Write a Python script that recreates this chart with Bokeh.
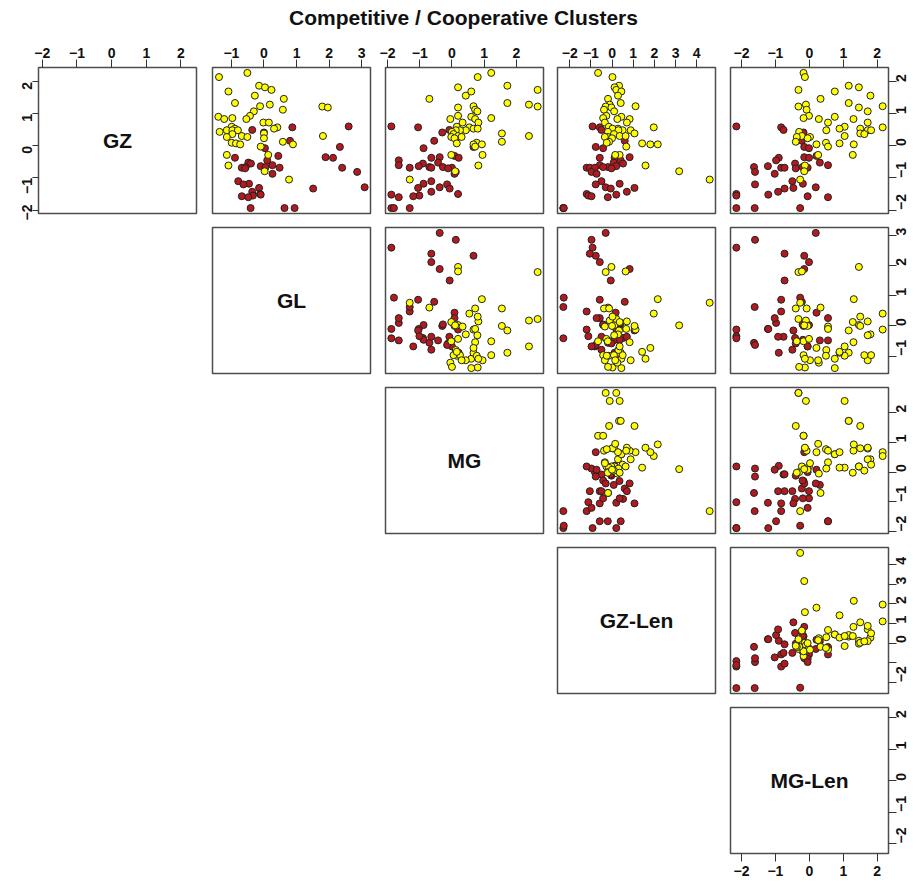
import math
from bokeh.plotting import figure
from bokeh.layouts import gridplot, column
from bokeh.models import ColumnDataSource, Range1d, FixedTicker
from bokeh.core.properties import value
from bokeh.embed import file_html
from bokeh.resources import INLINE

TITLE = "Competitive / Cooperative Clusters"
VAR_NAMES = ["GZ", "GL", "MG", "GZ-Len", "MG-Len"]
VAR_TICKS = [[-2, -1, 0, 1, 2], [-1, 0, 1, 2, 3], [-2, -1, 0, 1, 2],
             [-2, -1, 0, 1, 2, 3, 4], [-2, -1, 0, 1, 2]]

# ---- competitive cluster (red) ----
red_GZ = [0.61, 0.58, 0.50, 0.42, 0.16, -0.03, -0.07, -0.31, -0.35, -0.37,
          -0.37, -0.45, -0.52, -0.55, -0.60, -0.63, -0.66, -0.66, -0.68, -0.68,
          -0.68, -0.70, -0.81, -0.87, -1.10, -1.18, -1.20, -1.29, -1.31, -1.33,
          -1.43, -1.50, -1.52, -1.55, -1.57, -1.60, -1.94, -1.94, -1.94]
red_GL = [2.60, 0.87, -0.36, 0.00, 0.80, 2.33, 0.03, 0.44, 1.89, 2.12,
          -0.89, 0.10, -0.48, -0.40, 0.26, -0.10, -0.56, 0.05, 0.48, 2.40,
          -0.68, -0.58, 2.86, 0.26, -0.79, -0.46, -0.63, 3.09, -0.15, 1.51,
          -0.36, -0.12, -0.10, -0.34, -0.68, -0.48, -0.41, 0.63, 0.94]
red_MG = [-1.88, -1.05, -0.08, -0.30, -0.55, 0.67, -0.88, 0.08, -0.38, -0.64,
          0.21, -1.65, -0.43, -0.90, -1.65, -1.03, -0.70, -0.28, -1.31, -0.64,
          0.00, -0.12, 0.12, 0.08, -0.64, -0.88, -0.15, -0.38, -1.05, -0.07,
          -0.64, 0.19, -1.88, -1.01, -1.20, -1.65, -1.88, -1.31, -1.80]
red_GZLEN = [-0.92, -0.58, -0.50, 0.35, 0.60, -0.77, -0.42, 0.17, 0.83, -0.58,
             0.12, 0.41, 0.08, 0.52, -0.58, 0.20, -0.19, -0.42, -1.20, -1.05,
             -0.81, -0.03, -0.97, -0.73, -0.50, 0.36, -0.77, -0.30, 1.06, -0.06,
             0.70, -1.20, 0.20, -1.12, -0.97, -0.20, -2.30, -2.30, -2.28]
red_MGLEN = [-2.15, -0.83, -0.76, -0.17, -0.22, -0.15, -0.01, 0.21, -0.15, -0.01,
             -0.90, -0.98, 0.31, -0.42, 0.55, -1.22, -1.63, -0.20, -0.83, -0.73,
             -0.05, -0.40, -1.60, -1.02, -0.50, -0.19, -1.60, 0.19, -0.47, -0.73,
             -0.92, -2.15, -1.21, -2.15, -0.05, 0.55, -2.15, -1.61, -0.27]

# ---- cooperative cluster (yellow) ----
yel_GZ = [2.28, 2.15, 1.88, 1.83, 1.75, 1.70, 1.57, 1.47, 1.34, 1.29,
          1.24, 1.23, 1.20, 1.13, 1.08, 0.94, 0.91, 0.87, 0.84, 0.84,
          0.73, 0.73, 0.60, 0.58, 0.54, 0.54, 0.49, 0.49, 0.49, 0.44,
          0.39, 0.37, 0.31, 0.31, 0.28, 0.28, 0.24, 0.13, 0.10, 0.08,
          0.05, 0.05, -0.02, -0.28, -0.28, -0.61, -0.79, -1.05]
yel_GL = [-0.51, -1.38, -0.15, 0.03, 0.23, -1.09, -0.28, 0.61, -0.89, 0.18,
          -0.12, 1.79, 1.96, 0.58, -0.31, -0.43, -1.40, -0.97, -1.22, -0.54,
          -0.02, 0.15, -0.99, 0.41, -0.89, 0.31, -1.14, -0.97, -0.80, -1.36,
          0.00, -0.97, -0.68, 1.81, -0.51, -1.14, 0.00, 0.58, -0.99, -0.86,
          -0.73, 0.89, -0.10, 0.13, -1.14, -1.09, 0.02, 0.77]
yel_MG = [1.22, 0.80, 1.72, 0.19, 2.66, 0.60, 0.43, -0.70, 1.72, 2.39,
          0.67, 2.66, 0.19, 0.72, 0.79, 0.19, 0.60, 1.22, -0.05, 0.72,
          0.33, 0.82, 0.15, 0.54, 0.67, 0.80, 0.43, 0.25, 0.12, 0.00,
          1.55, 0.05, 2.39, 0.19, -0.02, 0.30, 0.08, 1.55, 0.77, 0.15,
          0.67, 0.93, 0.72, -0.02, 0.95, 0.82, 0.10, -1.31]
yel_GZLEN = [-0.66, 0.02, 0.33, 0.12, 0.20, 0.44, 0.28, -0.19, 0.41, -0.11,
             1.11, -0.30, -0.03, -0.38, 0.10, -0.27, 0.44, -0.42, 0.25, 0.83,
             -0.34, 0.70, -0.15, 1.97, 0.28, 0.02, 0.88, 0.50, 0.30, -0.19,
             1.06, 0.09, 0.36, 0.64, -0.20, -0.34, 0.00, -0.14, -0.25, 1.42,
             1.81, 2.16, 0.67, 0.36, 0.15, 1.58, 3.17, 4.61]
yel_MGLEN = [-0.17, -0.13, 1.16, 1.46, -0.32, 0.75, 1.80, 0.33, 1.16, -0.10,
             2.16, -0.32, 1.46, -0.08, 1.72, -0.01, 0.75, -0.17, 0.28, 1.30,
             0.55, 1.72, 1.04, 2.16, 0.89, 1.50, 1.72, 1.82, 0.50, -0.30,
             1.50, 1.62, 1.04, -0.22, -0.37, 0.02, -0.05, -0.40, 0.49, 0.89,
             0.21, 1.31, 0.55, 1.28, 0.26, -0.13, -0.15, -0.27]

RED_FILL = "#B21A20"
YEL_FILL = "#FFFF00"
POINT_LINE = "#222222"

red_cols = [red_GZ, red_GL, red_MG, red_GZLEN, red_MGLEN]
yel_cols = [yel_GZ, yel_GL, yel_MG, yel_GZLEN, yel_MGLEN]

data = {}
for k, name in enumerate(VAR_NAMES):
    data[name] = list(red_cols[k]) + list(yel_cols[k])
data["fill"] = [RED_FILL] * len(red_GZ) + [YEL_FILL] * len(yel_GZ)
src = ColumnDataSource(data)

# axis ranges as in R's pairs(): data range extended by 4 %
ranges = []
for name in VAR_NAMES:
    lo, hi = min(data[name]), max(data[name])
    ext = 0.04 * (hi - lo)
    ranges.append((lo - ext, hi + ext))

FW, FH = 158, 146
TOTAL_W = 916
TITLE_H = 36
col_lr = [(38, 8), (8, 7), (8, 7), (7, 8), (7, 28)]
row_tb = [(31, 7), (7, 7), (7, 7), (7, 7), (7, 30)]
FONT = "Liberation Sans"

# ---- title strip ----
tfig = figure(width=TOTAL_W, height=TITLE_H, x_axis_location=None,
              y_axis_location=None, output_backend="svg", toolbar_location=None,
              min_border=0, min_border_top=28, min_border_left=10, title=TITLE)
tfig.grid.visible = False
tfig.outline_line_color = None
tfig.title.align = "center"
tfig.title.text_font = FONT
tfig.title.text_font_size = "21px"
tfig.title.text_font_style = "bold"
tfig.title.text_color = "#111111"
tfig.title.standoff = 0


def style_axis(ax, ticks, vertical, overrides=None, tick_out=8, standoff=5):
    ax.ticker = FixedTicker(ticks=ticks)
    ax.axis_line_color = None
    ax.major_tick_line_color = "#333333"
    ax.major_tick_line_width = 1
    ax.major_tick_in = 0
    ax.major_tick_out = tick_out
    ax.minor_tick_line_color = None
    ax.major_label_text_font = FONT
    ax.major_label_text_font_size = "14px"
    ax.major_label_text_font_style = "bold"
    ax.major_label_text_color = "#111111"
    ax.major_label_standoff = standoff
    if vertical:
        ax.major_label_orientation = math.pi / 2
    if overrides:
        ax.major_label_overrides = overrides


rows = []
for i in range(5):
    row = []
    for j in range(5):
        if j < i:
            row.append(None)
            continue
        if i == 0:
            xloc = "above"
        elif i == 4 and j == 4:
            xloc = "below"
        else:
            xloc = None
        if j == 4:
            yloc = "right"
        elif i == 0 and j == 0:
            yloc = "left"
        else:
            yloc = None
        p = figure(frame_width=FW, frame_height=FH,
                   x_range=Range1d(*ranges[j]), y_range=Range1d(*ranges[i]),
                   x_axis_location=xloc, y_axis_location=yloc,
                   output_backend="svg", toolbar_location=None,
                   min_border_left=col_lr[j][0], min_border_right=col_lr[j][1],
                   min_border_top=row_tb[i][0], min_border_bottom=row_tb[i][1])
        p.grid.visible = False
        p.outline_line_color = "#4d4d4d"
        p.outline_line_width = 1.5
        p.background_fill_color = "white"
        p.border_fill_color = "white"
        for ax in p.xaxis:
            if i == 4:
                style_axis(ax, VAR_TICKS[j], False, tick_out=8, standoff=4)
            else:
                style_axis(ax, VAR_TICKS[j], False, tick_out=8, standoff=2)
        for ax in p.yaxis:
            ov = {-1: ""} if i == 3 else None
            if j == 4:
                style_axis(ax, VAR_TICKS[i], True, ov, tick_out=8, standoff=5)
            else:
                style_axis(ax, VAR_TICKS[i], True, ov, tick_out=6, standoff=5)
        if i == j:
            cx = [(ranges[j][0] + ranges[j][1]) / 2]
            cy = [(ranges[i][0] + ranges[i][1]) / 2]
            p.text(x=cx, y=cy, text=[VAR_NAMES[i]], text_align="center",
                   text_baseline="middle", text_font=value(FONT),
                   text_font_size="21px", text_font_style="bold",
                   text_color="#111111")
        else:
            p.scatter(x=VAR_NAMES[j], y=VAR_NAMES[i], source=src, size=7,
                      fill_color="fill", line_color=POINT_LINE, line_width=1)
        row.append(p)
    rows.append(row)

grid = gridplot(rows, toolbar_location=None)
layout = column(tfig, grid, spacing=0)

open("out.html", "w").write(file_html(layout, INLINE))
